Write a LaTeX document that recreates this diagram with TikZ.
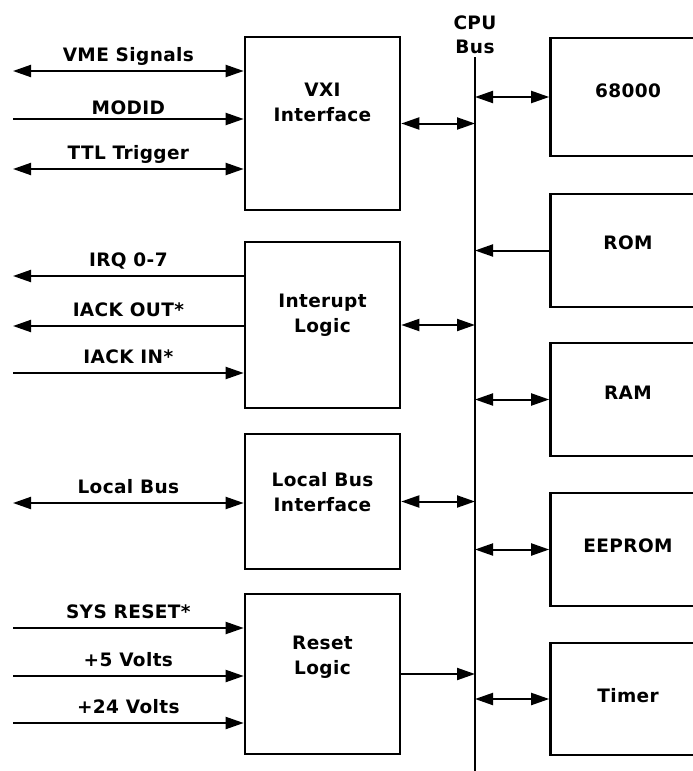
\documentclass[tikz,border=0pt]{standalone}
\usepackage{fontspec}
\setmainfont{DejaVu Sans}[LetterSpace=2]
\usepackage{tikz}
\usetikzlibrary{arrows.meta}

\tikzset{
    blk/.style={draw, line width=2.6pt, inner sep=0pt, minimum width=155pt},
    sig/.style={line width=2pt, -{Triangle[length=18pt,width=12pt]}},
    bisig/.style={line width=2pt, {Triangle[length=18pt,width=12pt]}-{Triangle[length=18pt,width=12pt]}},
    lbl/.style={midway, anchor=base, yshift=10pt},
    boxtext/.style={align=center}
}

\begin{document}
\begin{tikzpicture}[x=1pt, y=-1pt, font=\fontsize{18.5}{21}\selectfont\bfseries]
            \useasboundingbox (0,0) rectangle (693,771);
            \clip (0,0) rectangle (693,771);
            \coordinate (bustop) at (475,57);
            \coordinate (busbot) at (475,771);
            \draw[line width=2.4pt] (bustop) -- (busbot);
            \node[align=center, anchor=south] (buslbl) at (bustop) {CPU\\[3pt]Bus};

            \node[blk, minimum height=173pt] (vxi) at (322.5,123.5) {};
            \node[boxtext] (vxitxt) at (322.5,102) {VXI\\[4pt]Interface};
            \node[blk, minimum height=166pt] (irq) at (322.5,325) {};
            \node[boxtext] (irqtxt) at (322.5,315) {Interupt\\[4pt]Logic};
            \node[blk, minimum height=135pt] (lbi) at (322.5,501.5) {};
            \node[boxtext] (lbitxt) at (322.5,492) {Local Bus\\[4pt]Interface};
            \node[blk, minimum height=160pt] (rst) at (322.5,674) {};
            \node[boxtext] (rsttxt) at (322.5,657) {Reset\\[4pt]Logic};

            \node[blk, minimum height=118pt] (cpu) at (628,97) {};
            \node[] (cputxt) at (628,91) {68000};
            \node[blk, minimum height=113pt] (rom) at (628,250.5) {};
            \node[] (romtxt) at (628,243) {ROM};
            \node[blk, minimum height=113pt] (ram) at (628,399.5) {};
            \node[] (ramtxt) at (628,393) {RAM};
            \node[blk, minimum height=113pt] (eep) at (628,549.5) {};
            \node[] (eeptxt) at (628,546) {EEPROM};
            \node[blk, minimum height=112pt] (tmr) at (628,699) {};
            \node[] (tmrtxt) at (628,696) {Timer};

            \draw[bisig] (vxi.east) -- (vxi.east -| bustop);
            \draw[bisig] (irq.east) -- (irq.east -| bustop);
            \draw[bisig] (lbi.east) -- (lbi.east -| bustop);
            \draw[sig] (rst.east) -- (rst.east -| bustop);
            \draw[bisig] (cpu.west -| bustop) -- (cpu.west);
            \draw[sig] (rom.west) -- (rom.west -| bustop);
            \draw[bisig] (ram.west -| bustop) -- (ram.west);
            \draw[bisig] (eep.west -| bustop) -- (eep.west);
            \draw[bisig] (tmr.west -| bustop) -- (tmr.west);

            \coordinate (vmeL) at (13,71);
            \coordinate (modL) at (13,119);
            \coordinate (ttlL) at (13,169);
            \coordinate (irqL) at (13,276);
            \coordinate (outL) at (13,326);
            \coordinate (inL) at (13,373);
            \coordinate (locL) at (13,503);
            \coordinate (sysL) at (13,628);
            \coordinate (fiveL) at (13,676);
            \coordinate (twfL) at (13,723);
            \draw[bisig] (vmeL) -- (vmeL -| vxi.west) node[lbl] {VME Signals};
            \draw[sig] (modL) -- (modL -| vxi.west) node[lbl, yshift=-5pt] {MODID};
            \draw[bisig] (ttlL) -- (ttlL -| vxi.west) node[lbl] {TTL Trigger};
            \draw[sig] (irqL -| irq.west) -- (irqL) node[lbl] {IRQ 0-7};
            \draw[sig] (outL -| irq.west) -- (outL) node[lbl] {IACK OUT*};
            \draw[sig] (inL) -- (inL -| irq.west) node[lbl] {IACK IN*};
            \draw[bisig] (locL) -- (locL -| lbi.west) node[lbl] {Local Bus};
            \draw[sig] (sysL) -- (sysL -| rst.west) node[lbl] {SYS RESET*};
            \draw[sig] (fiveL) -- (fiveL -| rst.west) node[lbl] {+5 Volts};
            \draw[sig] (twfL) -- (twfL -| rst.west) node[lbl] {+24 Volts};
        \end{tikzpicture}
\end{document}
